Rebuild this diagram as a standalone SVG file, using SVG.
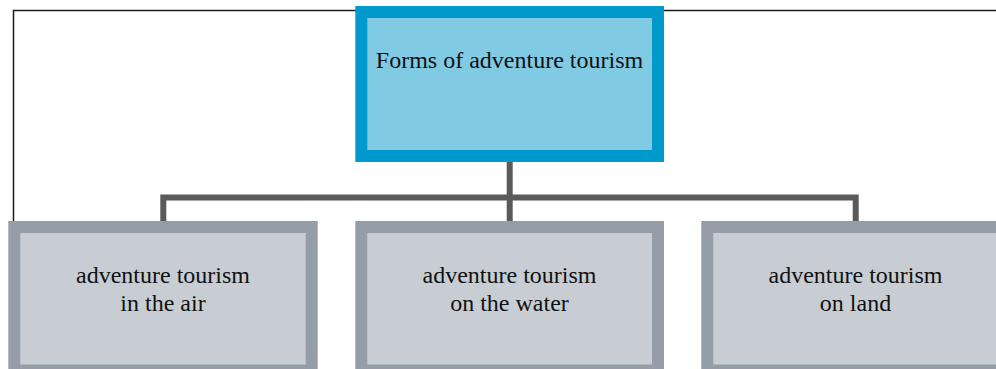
<svg xmlns="http://www.w3.org/2000/svg" width="996" height="369" viewBox="0 0 996 369">
<style>
.frame{fill:none;stroke:#1a1a1a;stroke-width:1.5}
.conn{fill:none;stroke:#5a5a5a;stroke-width:6}
.top{fill:#80cbe3;stroke:#0099cc;stroke-width:12}
.sub{fill:#c8cdd4;stroke:#959ea8;stroke-width:12}
text{font-family:"Liberation Serif","Times New Roman",serif;font-size:24px;fill:#111;text-anchor:middle}
</style>
<rect width="996" height="369" fill="#ffffff"/>
<g id="connectors">
<polyline class="frame" points="13.5,221 13.5,10.5 996,10.5"/>
<line class="conn" x1="509.7" y1="162" x2="509.7" y2="221"/>
<polyline class="conn" points="163.3,221 163.3,197.5 855.7,197.5 855.7,221"/>
</g>
<g id="node-top">
<rect class="top" x="361.3" y="12" width="296.7" height="144"/>
<text x="509.5" y="67.5">Forms of adventure tourism</text>
</g>
<g id="node-air">
<rect class="sub" x="14.3" y="227" width="297.4" height="143.5"/>
<text x="163" y="282.7">adventure tourism</text>
<text x="163" y="310.7">in the air</text>
</g>
<g id="node-water">
<rect class="sub" x="361.3" y="227" width="296.7" height="143.5"/>
<text x="509.5" y="282.7">adventure tourism</text>
<text x="509.5" y="310.7">on the water</text>
</g>
<g id="node-land">
<rect class="sub" x="707.3" y="227" width="300" height="143.5"/>
<text x="855.5" y="282.7">adventure tourism</text>
<text x="855.5" y="310.7">on land</text>
</g>
</svg>
